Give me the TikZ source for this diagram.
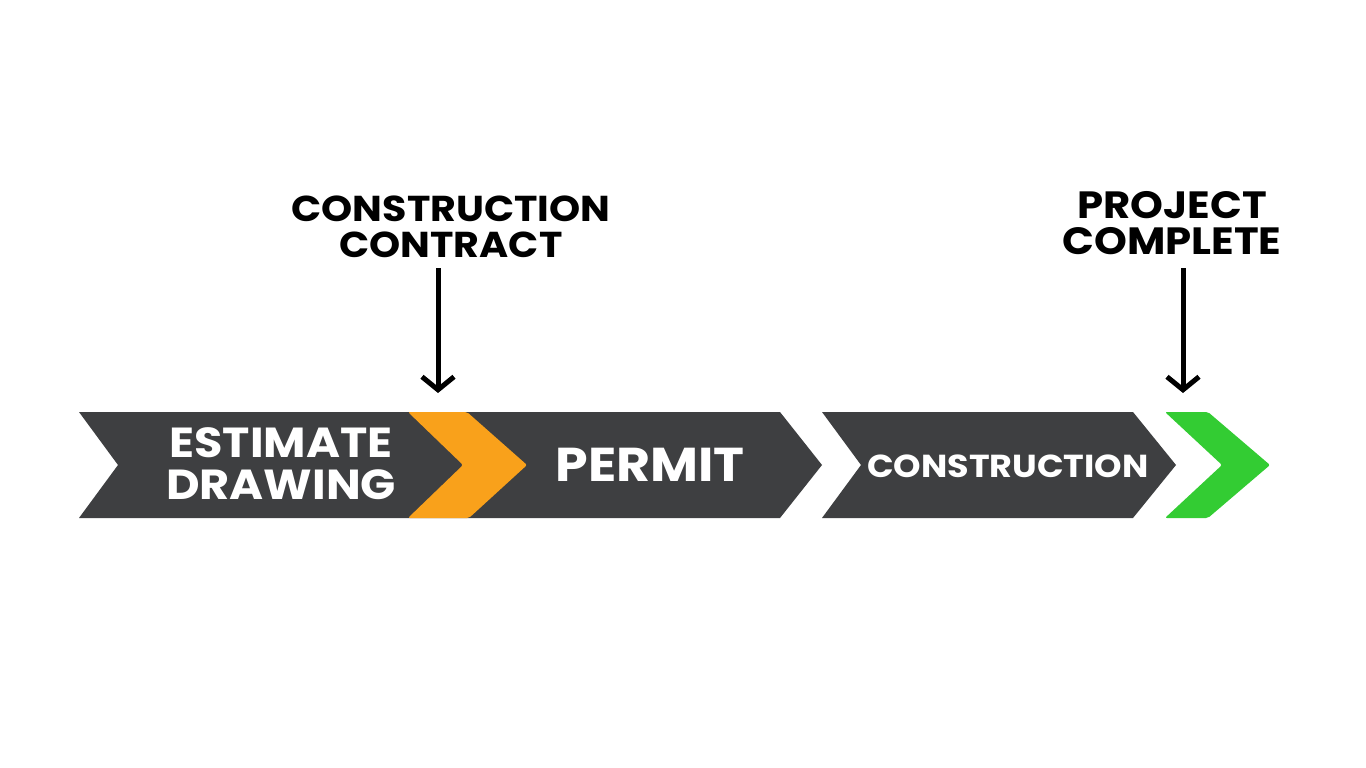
\documentclass[tikz,border=0pt]{standalone}
\usepackage{fontspec}
\setmainfont{Poppins}[BoldFont=* Bold, FakeStretch=1.1]
\usetikzlibrary{arrows.meta}
\definecolor{darkband}{HTML}{3E3F41}
\definecolor{orangec}{HTML}{F9A11B}
\definecolor{greenc}{HTML}{33CC33}
\tikzset{
  band/.style={fill=darkband},
  chev/.style={rounded corners=2pt},
  whitetxt/.style={text=white, font=\bfseries, align=center, inner sep=0pt},
  blacktxt/.style={text=black, font=\bfseries, align=center, inner sep=0pt},
  arr/.style={line width=5pt, -{Straight Barb[length=13pt,width=32pt,line width=5pt]}}
}
\begin{document}
\begin{tikzpicture}[x=1pt,y=-1pt]
\useasboundingbox (0,0) rectangle (1366,768);
\fill[white] (0,0) rectangle (1366,768);
% dark bands
\fill[band] (79,412) -- (780,412) -- (822,465) -- (780,518) -- (79,518) -- (118,465) -- cycle;
\fill[band] (822,412) -- (1133,412) -- (1176,465) -- (1133,518) -- (822,518) -- (861,465) -- cycle;
% chevrons
\fill[orangec,chev] (408,412) -- (467,412) -- (527,465) -- (469,518) -- (408,518) -- (463,465) -- cycle;
\fill[greenc,chev] (1165,412) -- (1208,412) -- (1270,465) -- (1208,518) -- (1165,518) -- (1222,465) -- cycle;
% band texts
\node[whitetxt, font=\fontsize{42}{42}\selectfont\bfseries] (est) at (281,464) {ESTIMATE\\DRAWING};
\node[whitetxt, font=\fontsize{47.5}{50}\selectfont\bfseries] (permit) at (650,465) {PERMIT};
\node[whitetxt, font=\fontsize{31.8}{36}\selectfont\bfseries] (constr) at (1008,466) {CONSTRUCTION};
% top labels
\node[blacktxt, font=\fontsize{36}{36}\selectfont\bfseries] (cc) at (451,227) {CONSTRUCTION\\CONTRACT};
\node[blacktxt, font=\fontsize{38}{36}\selectfont\bfseries] (pc) at (1172,223) {PROJECT\\COMPLETE};
% arrows
\coordinate (cctip) at (438,393);
\coordinate (pctip) at (1183,393);
\draw[arr] (438,268) -- (cctip);
\draw[arr] (1183,268) -- (pctip);
\end{tikzpicture}
\end{document}
